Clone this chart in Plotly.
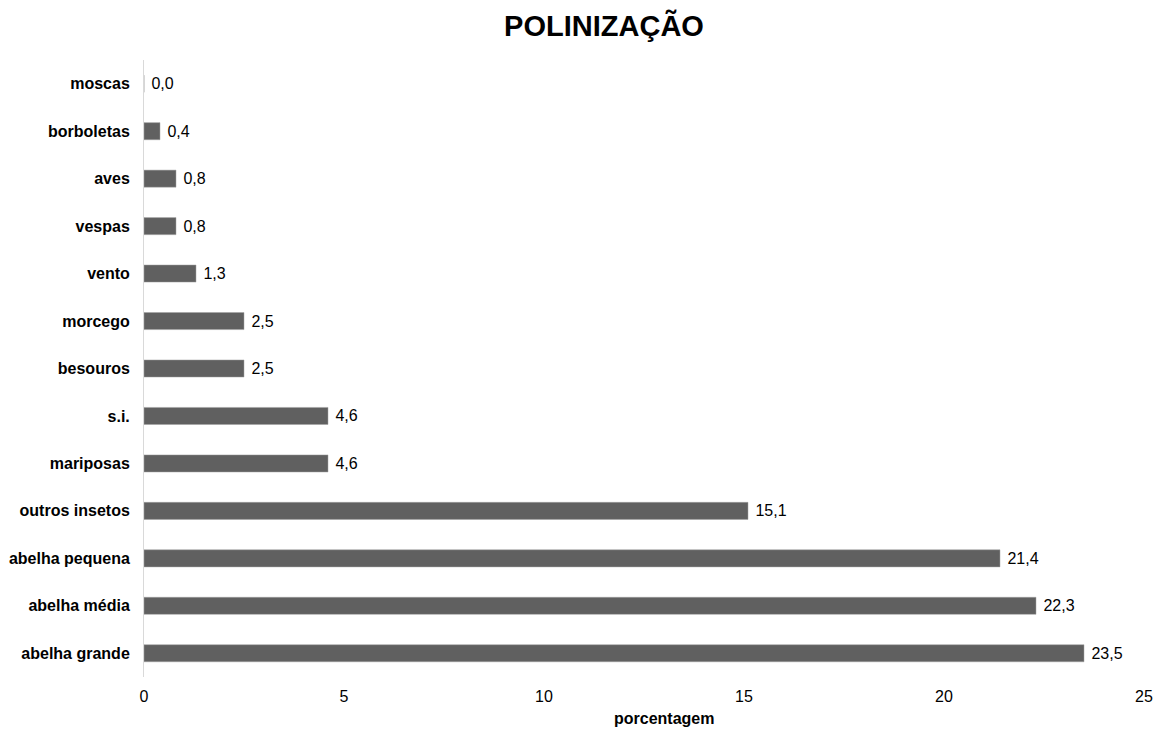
import plotly.graph_objects as go

categories = ["moscas", "borboletas", "aves", "vespas", "vento", "morcego", "besouros",
              "s.i.", "mariposas", "outros insetos", "abelha pequena", "abelha média", "abelha grande"]
values = [0.0, 0.4, 0.8, 0.8, 1.3, 2.5, 2.5, 4.6, 4.6, 15.1, 21.4, 22.3, 23.5]
x_ticks = [0, 5, 10, 15, 20, 25]

FONT = "Liberation Sans, Arial, sans-serif"

fig = go.Figure()
fig.add_trace(go.Bar(
    y=categories, x=values, orientation="h",
    marker=dict(color="#606060", line=dict(color="#a0a0a0", width=0.5)),
    width=0.36,
    text=[f"{v:.1f}".replace(".", ",") for v in values],
    texttemplate=" %{text}",
    textposition="outside",
    textfont=dict(family=FONT, size=16, color="#000000"),
    cliponaxis=False,
    hoverinfo="skip",
))

fig.update_layout(
    width=1153, height=721,
    paper_bgcolor="white", plot_bgcolor="white",
    separators=",.",
    margin=dict(l=136, r=17, t=52, b=52),
    showlegend=False,
    title=dict(text="<b>POLINIZAÇÃO</b>", x=(604 - 8) / 1153, xanchor="center", y=1 - 18 / 721,
               yanchor="middle", font=dict(family=FONT, size=29, color="#000000")),
    xaxis=dict(range=[0, 25], tickvals=x_ticks, showgrid=False, zeroline=False, automargin=False,
               showline=False, ticks="", ticklabelstandoff=8,
               tickfont=dict(family=FONT, size=16, color="#000000")),
    yaxis=dict(categoryorder="array", categoryarray=categories, autorange="reversed", automargin=False,
               showgrid=False, zeroline=False, showline=True, linecolor="#d9d9d9", linewidth=1,
               ticks="", ticklabelstandoff=10,
               tickfont=dict(family=FONT, size=16, color="#000000", weight="bold")),
    annotations=[dict(text="<b>porcentagem</b>", xref="paper", yref="paper", x=0.52, y=0,
                      xanchor="center", yanchor="middle", yshift=-41, showarrow=False,
                      font=dict(family=FONT, size=16, color="#000000"))],
)

fig.write_html("out.html")
